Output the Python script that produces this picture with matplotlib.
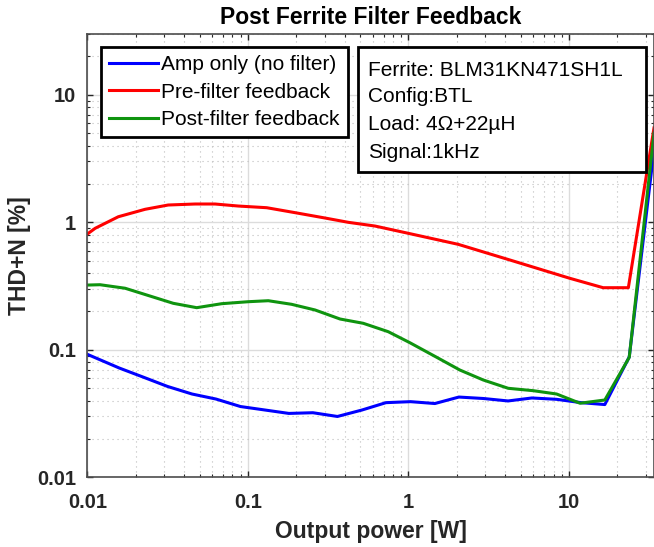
import numpy as np
import matplotlib
matplotlib.use("Agg")
import matplotlib.pyplot as plt
from matplotlib.patches import Rectangle
from matplotlib.ticker import FixedLocator, FixedFormatter, LogLocator, NullFormatter

plt.rcParams['font.family'] = ['Liberation Sans', 'DejaVu Sans']

# THD+N [%] vs output power [W]
amp_x = [0.01, 0.0158, 0.0222, 0.0316, 0.0449, 0.0633, 0.0899, 0.128, 0.180, 0.254,
         0.361, 0.513, 0.724, 1.03, 1.46, 2.06, 2.93, 4.17, 5.87, 8.35, 11.9, 16.7, 23.7, 33.8]
amp_y = [0.0922, 0.0720, 0.0612, 0.0516, 0.0450, 0.0411, 0.0359, 0.0337, 0.0317, 0.0321,
         0.0300, 0.0337, 0.0385, 0.0392, 0.0379, 0.0426, 0.0415, 0.0397, 0.0419, 0.0409,
         0.0385, 0.0372, 0.0878, 3.69]

pre_x = [0.01, 0.0112, 0.0156, 0.0229, 0.0319, 0.0469, 0.0624, 0.0871, 0.131, 0.197,
         0.302, 0.422, 0.619, 0.997, 2.04, 4.29, 10.1, 16.3, 23.4, 33.8]
pre_y = [0.809, 0.898, 1.106, 1.265, 1.367, 1.392, 1.392, 1.342, 1.302, 1.190,
         1.081, 1.0, 0.935, 0.820, 0.672, 0.506, 0.364, 0.307, 0.307, 5.5]

post_x = [0.01, 0.0120, 0.0172, 0.0343, 0.0480, 0.0687, 0.1006, 0.134, 0.187, 0.262,
          0.375, 0.523, 0.748, 1.02, 1.50, 2.09, 2.92, 4.18, 5.98, 8.37, 11.7, 16.7, 23.7, 33.8]
post_y = [0.322, 0.324, 0.304, 0.2316, 0.214, 0.230, 0.2384, 0.2427, 0.2275, 0.2053,
          0.1744, 0.1614, 0.1387, 0.1137, 0.0873, 0.0694, 0.0580, 0.0499, 0.0478, 0.0450,
          0.0381, 0.0404, 0.0873, 5.0]

series_labels = ['Amp only (no filter)', 'Pre-filter feedback', 'Post-filter feedback']
series_colors = ['#0000ff', '#ff0000', '#0f940f']

ticks = [0.01, 0.1, 1, 10]
tick_labels = ['0.01', '0.1', '1', '10']

info_lines = ['Ferrite: BLM31KN471SH1L', 'Config:BTL', 'Load: 4\u03a9+22\u00b5H', 'Signal:1kHz']

# layout in pixels
W, H = 654, 547
AX_L, AX_R, AX_T, AX_B = 87.3, 654.0, 34.0, 477.3


def frac(px, py):
    return (px - AX_L) / (AX_R - AX_L), (AX_B - py) / (AX_B - AX_T)


fig = plt.figure(figsize=(W / 100, H / 100), dpi=100)
ax = fig.add_axes([AX_L / W, 1 - AX_B / H, (AX_R - AX_L) / W, (AX_B - AX_T) / H])

for xs, ys, lab, col in zip([amp_x, pre_x, post_x], [amp_y, pre_y, post_y],
                            series_labels, series_colors):
    ax.plot(xs, ys, color=col, lw=2.2, label=lab, clip_on=True)

ax.set_xscale('log')
ax.set_yscale('log')
ax.set_xlim(0.01, 33.8)
ax.set_ylim(0.01, 30)

for axis in (ax.xaxis, ax.yaxis):
    axis.set_major_locator(FixedLocator(ticks))
    axis.set_major_formatter(FixedFormatter(tick_labels))
    axis.set_minor_locator(LogLocator(base=10, subs=np.arange(2, 10), numticks=20))
    axis.set_minor_formatter(NullFormatter())

ax.grid(which='major', color='#dcdcdc', lw=1.0, ls='-')
ax.grid(which='minor', color='#bdbdbd', lw=0.8, ls=(0, (1, 3.5)))
ax.set_axisbelow(True)

ax.tick_params(which='both', direction='in', top=True, right=True, colors='#262626')
ax.tick_params(which='major', length=4.5, width=1.0, labelsize=14.5)
ax.tick_params(axis='x', which='major', pad=11.5)
ax.tick_params(axis='y', which='major', pad=8)
ax.tick_params(which='minor', length=2.5, width=0.8)
for lab in ax.get_xticklabels() + ax.get_yticklabels():
    lab.set_fontweight('bold')
for sp in ax.spines.values():
    sp.set_color('#4d4d4d')
    sp.set_linewidth(1.2)

ax.set_title('Post Ferrite Filter Feedback', fontsize=16.5, fontweight='bold', pad=7)
fig.text((AX_L + AX_R) / 2 / W, 1 - 531.7 / H, 'Output power [W]', fontsize=16.5,
         fontweight='bold', ha='center', va='center', color='#262626')
fig.text(20 / W, 1 - (AX_T + AX_B) / 2 / H, 'THD+N [%]', fontsize=16.5, fontweight='bold',
         rotation=90, ha='center', va='center', color='#262626')

leg = ax.legend(loc='upper left', bbox_to_anchor=frac(101, 47), borderaxespad=0,
                fontsize=15, handlelength=2.35, handletextpad=0.15, borderpad=0.4,
                labelspacing=0.4, fancybox=False, framealpha=1, edgecolor='black')
leg.get_frame().set_linewidth(2.0)

x0, y0 = frac(358, 172)
x1, y1 = frac(646, 47)
ax.add_patch(Rectangle((x0, y0), x1 - x0, y1 - y0, transform=ax.transAxes,
                       facecolor='white', edgecolor='black', lw=2.0, zorder=5))
for txt, py in zip(info_lines, [70, 97, 125, 152]):
    tx, ty = frac(368, py)
    ax.text(tx, ty, txt, transform=ax.transAxes, fontsize=15, ha='left', va='center',
            zorder=6)

fig.savefig('out.png', dpi=100)
